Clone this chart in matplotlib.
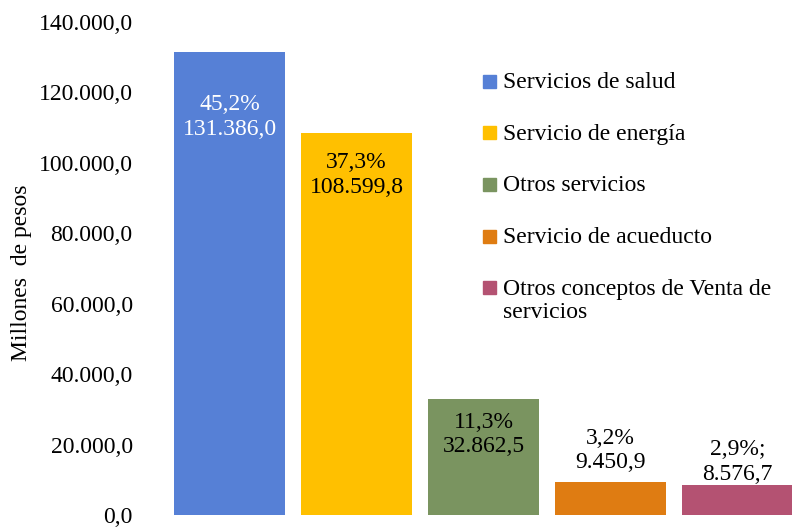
import matplotlib.pyplot as plt
from matplotlib.patches import Rectangle
import numpy as np

# data
categorias = ["Servicios de salud", "Servicio de energía", "Otros servicios",
              "Servicio de acueducto", "Otros conceptos de Venta de\nservicios"]
valores = [131386.0, 108599.8, 32862.5, 9450.9, 8576.7]
porcentajes = ["45,2%", "37,3%", "11,3%", "3,2%", "2,9%;"]
colores = ["#5680D6", "#FFC000", "#7A9460", "#DF7C12", "#B45272"]
yticks = [0, 20000, 40000, 60000, 80000, 100000, 120000, 140000]


def fmt(v):
    # 131386.0 -> 131.386,0
    s = f"{v:,.1f}"
    return s.replace(",", "X").replace(".", ",").replace("X", ".")


plt.rcParams["font.family"] = ["Liberation Serif", "DejaVu Serif"]
plt.rcParams["font.size"] = 17

W, H = 792, 527
fig = plt.figure(figsize=(W / 100, H / 100), dpi=100)
ax = fig.add_axes([166 / W, 12 / H, 626 / W, 493 / H])

x = np.arange(len(valores))
bars = ax.bar(x, valores, width=0.88, color=colores)

# label offsets (points) - the Excel labels were placed by hand
offs = [-30, -14, -9, 6, 0]
for i, (b, v, p) in enumerate(zip(bars, valores, porcentajes)):
    txt = f"{p}\n{fmt(v)}"
    ax.annotate(txt, (b.get_x() + b.get_width() / 2, v), xytext=(0, offs[i]),
                textcoords="offset points", ha="center",
                va="top" if offs[i] < 0 else "bottom",
                color="white" if i == 0 else "black", linespacing=1.23)

ax.set_xlim(-0.5, 4.43)
ax.set_ylim(0, 140000)
ax.set_yticks(yticks)
ax.set_yticklabels([fmt(t) for t in yticks])
ax.tick_params(axis="y", length=0, pad=24)
ax.set_xticks([])
for s in ax.spines.values():
    s.set_visible(False)

fig.text(22 / W, 1 - 273 / H, "Millones  de pesos", rotation=90, ha="center",
         va="center")

# legend drawn by hand so the last square sits on the first line
for i, (c, lab) in enumerate(zip(colores, categorias)):
    yc = 81 + i * 51.7
    fig.patches.append(Rectangle((483 / W, 1 - (yc + 6.5) / H), 13 / W, 13 / H,
                                 transform=fig.transFigure, color=c))
    fig.text(503 / W, 1 - (yc - 9) / H, lab, va="top", ha="left",
             linespacing=1.15)

fig.savefig("out.png", dpi=100)
